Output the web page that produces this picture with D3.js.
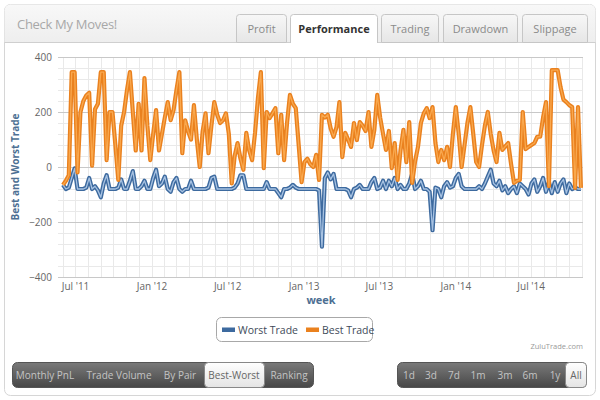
<!DOCTYPE html>
<html><head><meta charset="utf-8">
<script src="https://cdn.jsdelivr.net/npm/d3@7"></script>
<style>
html,body{margin:0;padding:0;background:#fff;}
svg{display:block;font-family:"Open Sans","Noto Sans",sans-serif;}
</style></head>
<body><svg id="c" width="600" height="400"></svg>
<script>
// ---------- data ----------
const firstWeek = "2011-06-02";
const bestTrade = [
 -65,-50,-30,345,345,-20,200,240,260,270,
 5,210,230,345,345,25,200,200,80,-47,
 150,200,280,345,200,60,230,60,323,150,
 25,120,207,60,120,180,236,170,207,280,
 345,50,170,130,100,225,100,0,130,195,
 50,150,236,190,160,170,195,120,-60,40,
 87,30,-10,124,60,25,124,250,345,-4,
 200,178,195,214,50,190,25,160,262,230,
 214,80,-55,18,30,10,0,44,-47,190,
 180,190,140,110,145,236,36,124,100,73,
 160,98,163,150,131,200,73,135,262,180,
 120,62,131,-4,87,-47,60,135,18,163,
 -58,20,73,160,195,214,178,218,87,18,
 62,25,73,0,120,218,120,0,80,160,
 218,120,18,0,80,150,200,120,60,18,
 124,62,75,87,10,-58,-50,-47,200,65,
 73,80,87,110,110,180,236,-70,352,352,
 352,290,245,236,225,218,-76,218,-76];
const worstTrade = [
 -65,-80,-75,-40,-5,-80,-80,-80,-75,-40,
 -80,-70,-85,-110,-60,-30,-80,-80,-80,-75,
 -45,-80,-80,-50,-15,-80,-80,-70,-50,-80,
 -80,-40,-10,-70,-60,-35,-80,-90,-55,-40,
 -80,-90,-80,-80,-50,-80,-80,-80,-80,-80,
 -75,-40,-35,-80,-80,-80,-80,-80,-80,-75,
 -60,-30,-30,-80,-80,-80,-80,-80,-80,-80,
 -55,-80,-80,-80,-95,-110,-80,-80,-75,-65,
 -75,-80,-80,-80,-80,-80,-80,-80,-85,-290,
 -40,-20,-45,-25,-80,-80,-80,-80,-85,-110,
 -80,-75,-65,-80,-80,-80,-55,-40,-80,-75,
 -50,-80,-50,-70,-40,-80,-65,-80,-80,-60,
 -25,-80,-70,-50,-80,-80,-90,-230,-75,-80,
 -110,-70,-55,-75,-70,-40,-25,-70,-80,-80,
 -80,-80,-80,-70,-80,-60,-35,-10,-60,-70,
 -50,-85,-70,-95,-80,-70,-95,-60,-70,-80,
 -100,-60,-45,-90,-70,-40,-90,-55,-95,-55,
 -90,-60,-45,-95,-60,-80,-75,-80,-80];
const xTickDates = ["2011-07-01","2012-01-01","2012-07-01","2013-01-01","2013-07-01","2014-01-01","2014-07-01"];
const xTickLabels = ["Jul '11","Jan '12","Jul '12","Jan '13","Jul '13","Jan '14","Jul '14"];
const yTicks = [-400,-200,0,200,400];
const seriesNames = ["Worst Trade","Best Trade"];
const tabs = ["Profit","Performance","Trading","Drawdown","Slippage"];
const leftButtons = ["Monthly PnL","Trade Volume","By Pair","Best-Worst","Ranking"];
const rightButtons = ["1d","3d","7d","1m","3m","6m","1y","All"];

// ---------- setup ----------
const svg = d3.select("#c");
const parse = d3.timeParse("%Y-%m-%d");
const start = parse(firstWeek);
const dates = bestTrade.map((_, i) => d3.timeWeek.offset(start, i));
const last = dates[dates.length - 1];

const defs = svg.append("defs");
function grad(id, c1, c2) {
  const g = defs.append("linearGradient").attr("id", id).attr("x1",0).attr("y1",0).attr("x2",0).attr("y2",1);
  g.append("stop").attr("offset","0%").attr("stop-color",c1);
  g.append("stop").attr("offset","100%").attr("stop-color",c2);
}
grad("hdr","#f8f8f8","#eeeeee");
grad("tab","#f7f7f7","#e6e6e6");
grad("btn","#7a7a7a","#474747");
grad("btnA","#ffffff","#e4e4e4");

// panel
svg.append("rect").attr("x",4.5).attr("y",4.5).attr("width",591).attr("height",391).attr("rx",6)
  .attr("fill","#fff").attr("stroke","#d6d6d6");
svg.append("path").attr("d","M4.5,42.5 V10.5 a6,6 0 0 1 6,-6 H589.5 a6,6 0 0 1 6,6 V42.5 Z")
  .attr("fill","url(#hdr)").attr("stroke","none");
svg.append("line").attr("x1",4.5).attr("x2",595.5).attr("y1",42.5).attr("y2",42.5).attr("stroke","#cfcfcf");
svg.append("text").attr("x",17).attr("y",29).attr("font-size",13).attr("fill","#a8a8a8")
  .attr("letter-spacing","-0.3").text("Check My Moves!");

// tabs
const tabX = [236, 290, 381, 443, 522], tabW = [50, 87, 57, 74, 65];
tabs.forEach((t, i) => {
  const act = i === 1;
  const x = tabX[i] + 0.5, w = tabW[i], top = 14.5, bot = act ? 43 : 42.5;
  svg.append("path").attr("d", `M${x},${bot} V${top+3} a3,3 0 0 1 3,-3 H${x+w-3} a3,3 0 0 1 3,3 V${bot}` + (act ? "" : " Z"))
    .attr("fill", act ? "#fff" : "url(#tab)").attr("stroke","#c6c6c6");
  svg.append("text").attr("x", x + w/2).attr("y", 33).attr("text-anchor","middle")
    .attr("font-size", 11).attr("font-weight", act ? "bold" : "normal")
    .attr("fill", act ? "#333" : "#8a8a8a").text(t);
});

// ---------- chart ----------
const x = d3.scaleTime().domain([d3.timeDay.offset(start,-12), d3.timeDay.offset(last,5)]).range([58,583]);
const y = d3.scaleLinear().domain([-400,400]).range([277,57]);

const grid = svg.append("g");
grid.selectAll("line.mv").data(d3.timeMonth.range(x.domain()[0], x.domain()[1])).join("line")
  .attr("x1", d => Math.round(x(d))+0.5).attr("x2", d => Math.round(x(d))+0.5)
  .attr("y1",57).attr("y2",277).attr("stroke","#e9e9e9");
grid.selectAll("line.mh").data(d3.range(-400,401,40)).join("line")
  .attr("x1",58).attr("x2",583).attr("y1", d => Math.round(y(d))+0.5).attr("y2", d => Math.round(y(d))+0.5)
  .attr("stroke","#e9e9e9");
grid.selectAll("line.M").data(yTicks).join("line")
  .attr("x1",58).attr("x2",583).attr("y1", d => Math.round(y(d))+0.5).attr("y2", d => Math.round(y(d))+0.5)
  .attr("stroke","#c8c8c8");

const yAxis = svg.append("g").attr("transform","translate(52,0)")
  .call(d3.axisLeft(y).tickValues(yTicks).tickSize(0).tickPadding(0).tickFormat(d3.format("d")));
yAxis.select(".domain").remove();
yAxis.selectAll("text").attr("font-size",10).attr("fill","#666").attr("font-family","Open Sans").attr("dy","0.35em");

const xAxis = svg.append("g").attr("transform","translate(0,281)")
  .call(d3.axisBottom(x).tickValues(xTickDates.map(parse)).tickSize(0).tickPadding(2)
    .tickFormat((d,i) => xTickLabels[i]));
xAxis.select(".domain").remove();
xAxis.selectAll("text").attr("font-size",10).attr("fill","#666").attr("font-family","Open Sans");

svg.append("text").attr("transform","translate(19,167) rotate(-90)").attr("text-anchor","middle")
  .attr("font-size",10).attr("font-weight","bold").attr("fill","#4d6f93").text("Best and Worst Trade");
svg.append("text").attr("x",321).attr("y",304).attr("text-anchor","middle")
  .attr("font-size",11).attr("font-weight","bold").attr("fill","#4d6f93").text("week");

const line = d3.line().x((d,i) => x(dates[i])).y(d => y(d));
const styles = [
  {data: worstTrade, outer:"#3d6a9f", inner:"#a7c2e2"},
  {data: bestTrade, outer:"#ea811e", inner:"#f9a84e"}
];
styles.forEach(s => {
  svg.append("path").attr("d", line(s.data)).attr("fill","none").attr("stroke",s.outer)
    .attr("stroke-width",4.2).attr("stroke-linejoin","round");
  svg.append("path").attr("d", line(s.data)).attr("fill","none").attr("stroke",s.inner)
    .attr("stroke-width",1.3).attr("stroke-linejoin","round");
});

// legend
const lg = svg.append("g");
lg.append("rect").attr("x",216.5).attr("y",317.5).attr("width",156).attr("height",24).attr("rx",5)
  .attr("fill","#fff").attr("stroke","#a8a8a8");
let lx = 222;
seriesNames.forEach((n, i) => {
  lg.append("rect").attr("x",lx).attr("y",327.5).attr("width",13).attr("height",4.5)
    .attr("fill", styles[i].outer);
  const t = lg.append("text").attr("x",lx+16).attr("y",333.5).attr("font-size",10.5).attr("fill","#3e4a59").text(n);
  lx = lx + 16 + t.node().getComputedTextLength() + 8;
});
svg.append("text").attr("x",583).attr("y",349).attr("text-anchor","end").attr("font-size",7.5)
  .attr("fill","#999").text("ZuluTrade.com");

function btnGroup(x0, w0, labels, centers, active, aX, aW) {
  svg.append("rect").attr("x",x0+0.5).attr("y",362.5).attr("width",w0).attr("height",25).attr("rx",5)
    .attr("fill","url(#btn)").attr("stroke","#555");
  svg.append("rect").attr("x",aX+0.5).attr("y",362.5).attr("width",aW).attr("height",25).attr("rx",4)
    .attr("fill","url(#btnA)").attr("stroke","#888");
  labels.forEach((l, i) => {
    svg.append("text").attr("x",centers[i]).attr("y",379).attr("text-anchor","middle").attr("font-size",10)
      .attr("fill", i === active ? "#666" : "#c4c4c4").text(l);
  });
}
btnGroup(12, 301, leftButtons, [45,119,180,234,289], 3, 204, 60);
btnGroup(397, 189, rightButtons, [409,431,454,478,505,530,555,576], 7, 565, 21);
</script></body></html>
